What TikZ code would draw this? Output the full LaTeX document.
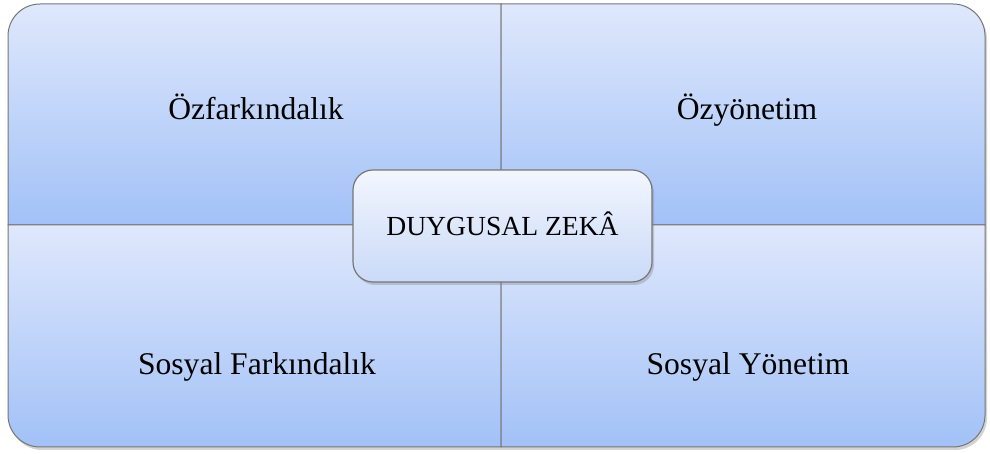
\documentclass[tikz,border=0pt]{standalone}
\usepackage{fontspec}
\setmainfont{Liberation Serif}
\usetikzlibrary{shadows}
\definecolor{quadtop}{RGB}{223,232,252}
\definecolor{quadbot}{RGB}{162,193,247}
\definecolor{boxtop}{RGB}{242,246,254}
\definecolor{boxbot}{RGB}{202,218,248}
\definecolor{edgegray}{RGB}{118,118,118}
\tikzset{quadrant/.style={top color = quadtop, bottom color = quadbot, draw = edgegray, line width = 1pt}}
\tikzset{quadlabel/.style={anchor = base, font = \fontsize{31.6}{36}\selectfont}}
\tikzset{centerbox/.style={shape = rectangle, rounded corners = 20pt, draw = edgegray, line width = 1.2pt, top color = boxtop, bottom color = boxbot, minimum width = 299pt, minimum height = 112pt, text height = 18.3pt, text depth = 0pt, font = \fontsize{27.6}{32}\selectfont, drop shadow = {shadow xshift = 2pt, shadow yshift = -3pt, opacity = 0.35}}}

\begin{document}
\begin{tikzpicture}[x=1pt,y=1pt]
\useasboundingbox (0,0) rectangle (990,454);
\path[fill = white, rounded corners = 32pt, drop shadow = {shadow xshift = 2pt, shadow yshift = -3pt, opacity = 0.35}] (8,7) rectangle (985,450);
\path[quadrant] (501,229) -- (8,229) -- (8,418) arc[start angle = 180, end angle = 90, radius = 32pt] -- (501,450) -- cycle;
\path[quadrant] (501,229) -- (501,450) -- (953,450) arc[start angle = 90, end angle = 0, radius = 32pt] -- (985,229) -- cycle;
\path[quadrant] (501,229) -- (8,229) -- (8,39) arc[start angle = 180, end angle = 270, radius = 32pt] -- (501,7) -- cycle;
\path[quadrant] (501,229) -- (985,229) -- (985,39) arc[start angle = 0, end angle = -90, radius = 32pt] -- (501,7) -- cycle;
\node[style=quadlabel] (selfaware) at (256,334) {Özfarkındalık};
\node[style=quadlabel] (selfmanage) at (747,334) {Özyönetim};
\node[style=quadlabel] (socialaware) at (257,79) {Sosyal Farkındalık};
\node[style=quadlabel] (socialmanage) at (748,79) {Sosyal Yönetim};
\node[style=centerbox] (eq) at (502.5,228) {DUYGUSAL ZEKÂ};
\end{tikzpicture}
\end{document}
